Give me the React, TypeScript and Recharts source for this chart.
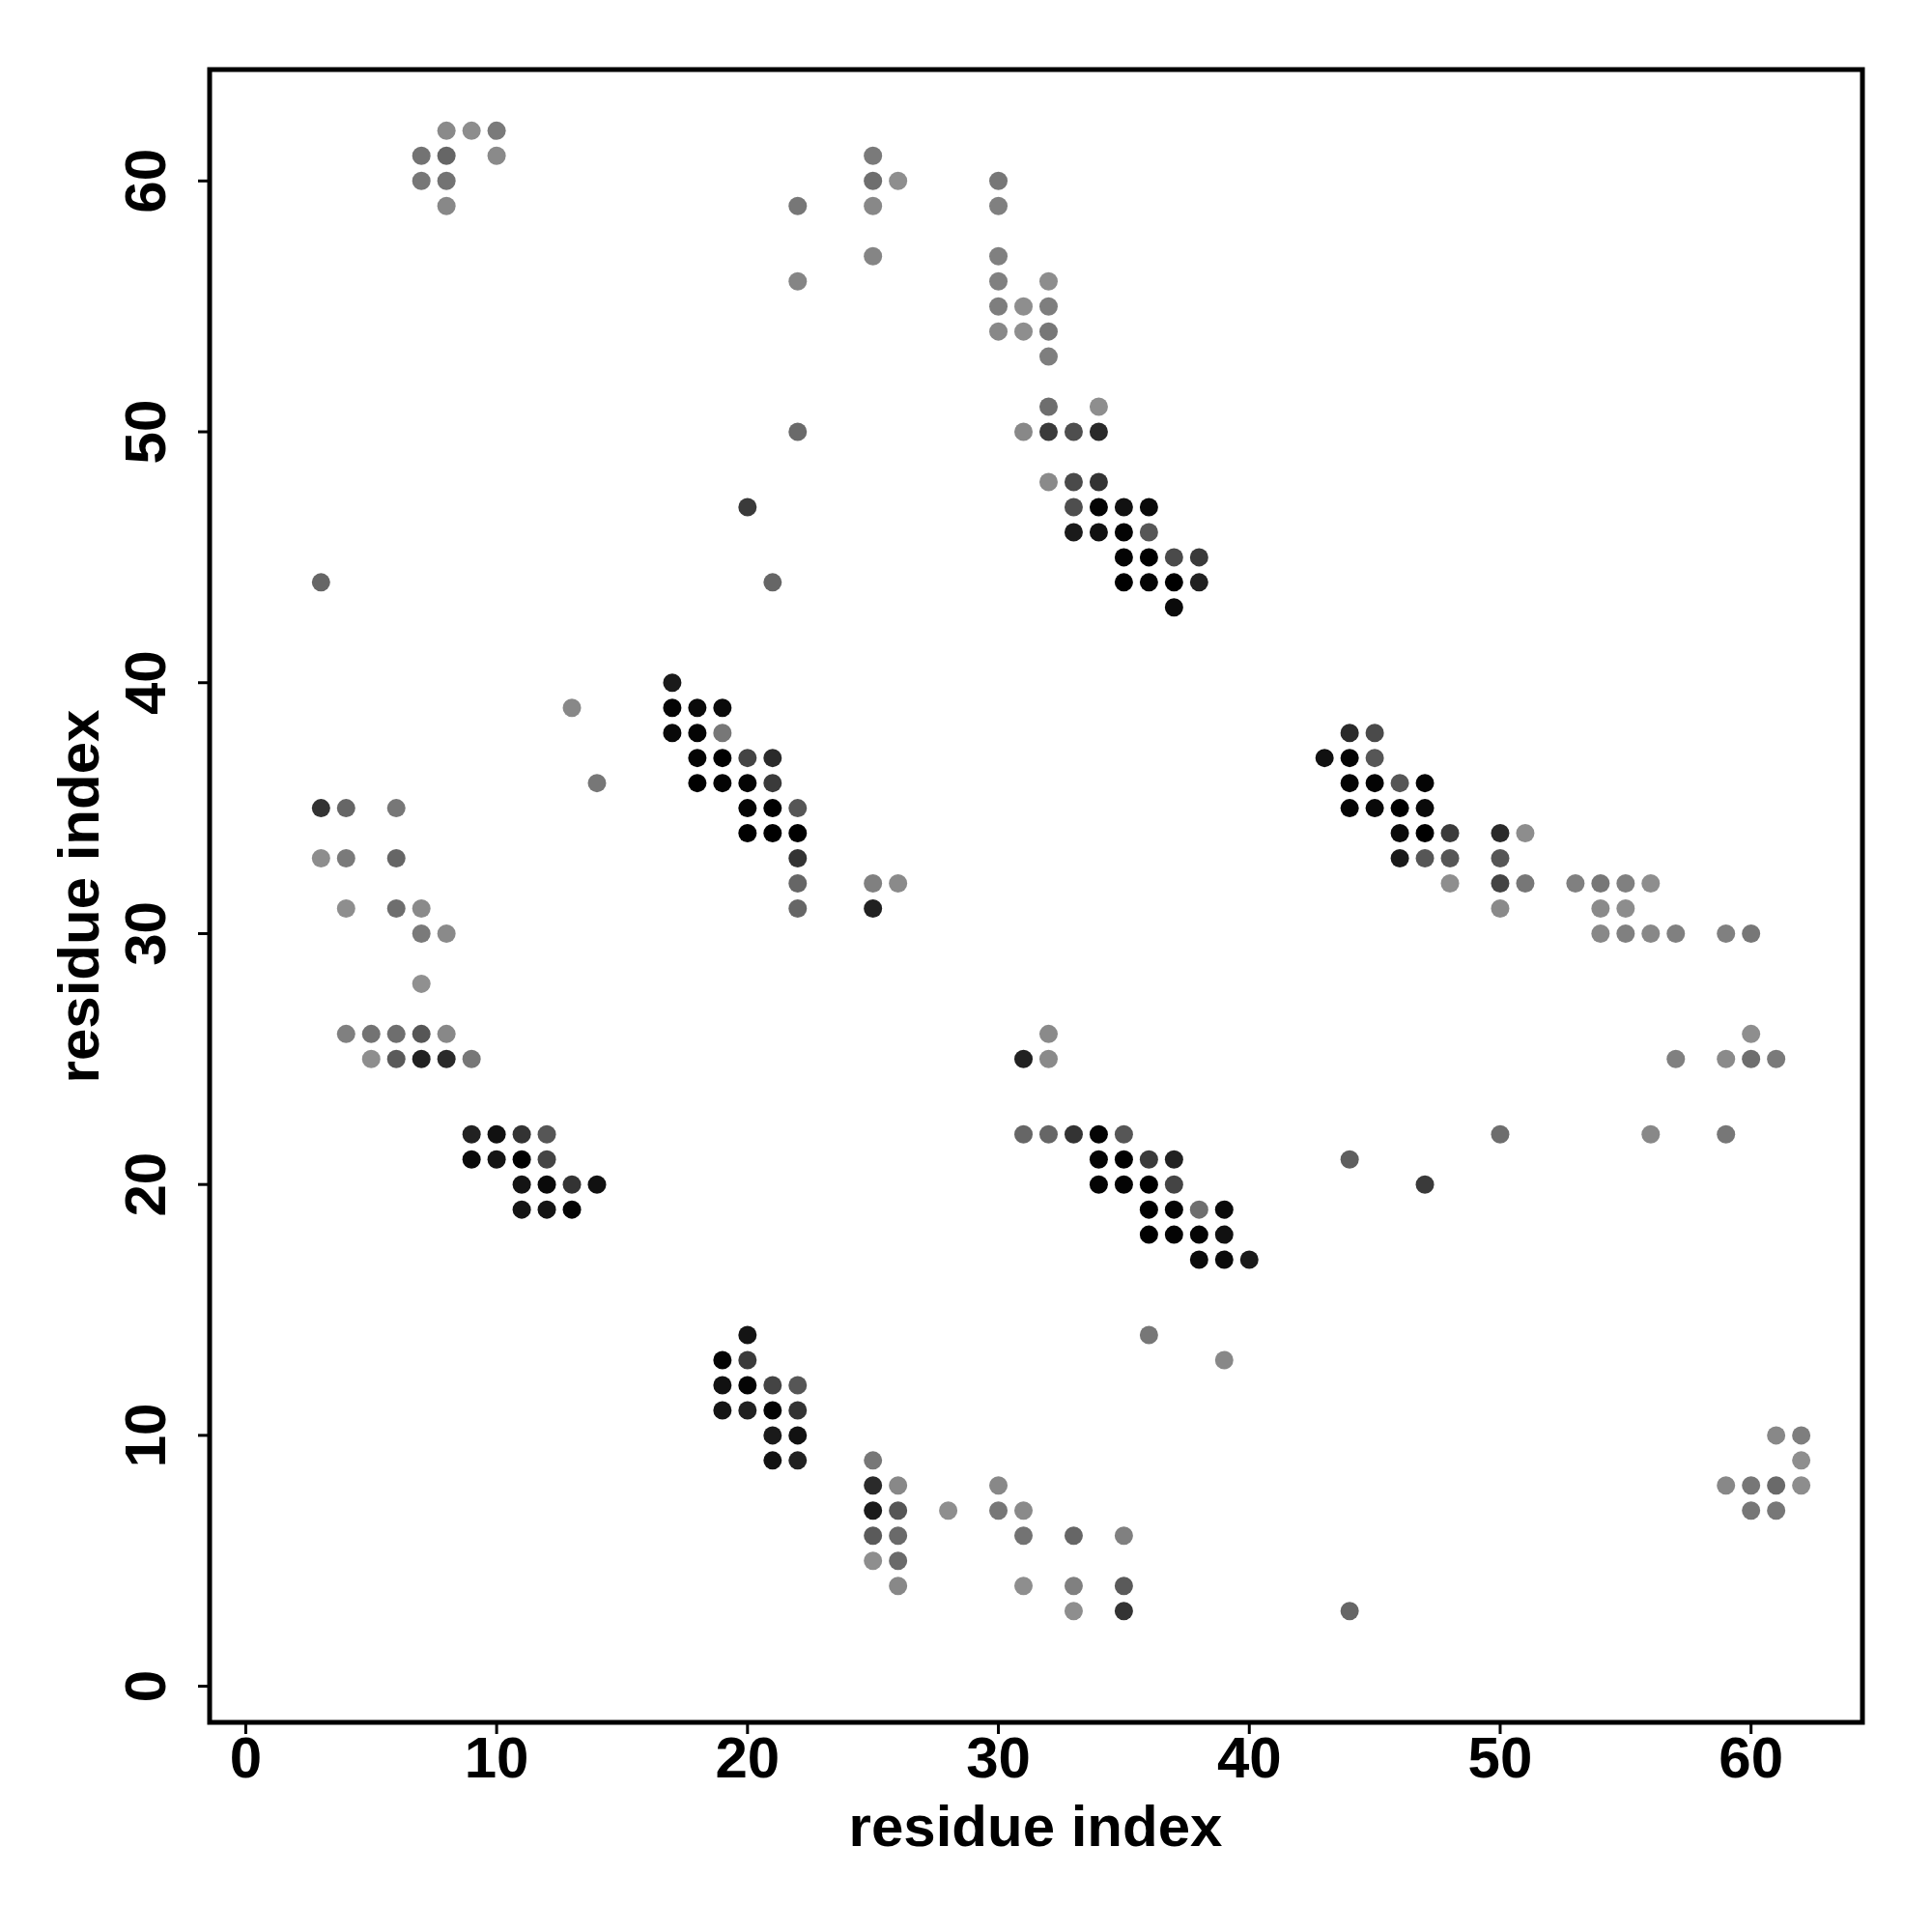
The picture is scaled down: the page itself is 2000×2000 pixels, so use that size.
import { ScatterChart, Scatter, XAxis, YAxis, ReferenceArea } from "recharts";

// contacts: [residue i, residue j, contact score 0..1]
const contacts: [number, number, number][] = [
  [8, 62, 0.05], [9, 62, 0.03], [10, 62, 0.16],
  [7, 61, 0.21], [8, 61, 0.3], [10, 61, 0.05], [25, 61, 0.16],
  [7, 60, 0.18], [8, 60, 0.21], [25, 60, 0.24], [26, 60, 0.02], [30, 60, 0.18],
  [8, 59, 0.06], [22, 59, 0.18], [25, 59, 0.06], [30, 59, 0.12],
  [25, 57, 0.08], [30, 57, 0.12],
  [22, 56, 0.08], [30, 56, 0.12], [32, 56, 0.03],
  [30, 55, 0.13], [31, 55, 0.02], [32, 55, 0.13],
  [30, 54, 0.06], [31, 54, 0.02], [32, 54, 0.18],
  [32, 53, 0.13],
  [32, 51, 0.24], [34, 51, 0.02],
  [22, 50, 0.27], [31, 50, 0.06], [32, 50, 0.6], [33, 50, 0.46], [34, 50, 0.71],
  [32, 48, 0.05], [33, 48, 0.49], [34, 48, 0.65],
  [20, 47, 0.6], [33, 47, 0.46], [34, 47, 0.97], [35, 47, 0.88], [36, 47, 0.94],
  [33, 46, 0.82], [34, 46, 0.88], [35, 46, 0.97], [36, 46, 0.41],
  [35, 45, 0.97], [36, 45, 1.0], [37, 45, 0.49], [38, 45, 0.6],
  [3, 44, 0.3], [21, 44, 0.3], [35, 44, 1.0], [36, 44, 0.97], [37, 44, 1.0], [38, 44, 0.77],
  [37, 43, 0.93],
  [17, 40, 0.82],
  [13, 39, 0.06], [17, 39, 0.97], [18, 39, 0.93], [19, 39, 0.93],
  [17, 38, 0.94], [18, 38, 0.97], [19, 38, 0.18], [44, 38, 0.71], [45, 38, 0.49],
  [18, 37, 0.97], [19, 37, 1.0], [20, 37, 0.53], [21, 37, 0.71], [43, 37, 0.88], [44, 37, 0.97], [45, 37, 0.41],
  [14, 36, 0.18], [18, 36, 1.0], [19, 36, 0.97], [20, 36, 0.97], [21, 36, 0.6],
  [44, 36, 0.97], [45, 36, 0.97], [46, 36, 0.41], [47, 36, 0.97],
  [3, 35, 0.65], [4, 35, 0.3], [6, 35, 0.18], [20, 35, 0.97], [21, 35, 1.0], [22, 35, 0.41],
  [44, 35, 0.97], [45, 35, 0.94], [46, 35, 1.0], [47, 35, 0.93],
  [20, 34, 1.0], [21, 34, 1.0], [22, 34, 1.0], [46, 34, 0.93], [47, 34, 1.0], [48, 34, 0.6], [50, 34, 0.71], [51, 34, 0.03],
  [3, 33, 0.03], [4, 33, 0.16], [6, 33, 0.3], [22, 33, 0.65], [46, 33, 0.82], [47, 33, 0.41], [48, 33, 0.41], [50, 33, 0.41],
  [22, 32, 0.3], [25, 32, 0.12], [26, 32, 0.05], [48, 32, 0.02], [50, 32, 0.53], [51, 32, 0.18],
  [53, 32, 0.12], [54, 32, 0.18], [55, 32, 0.12], [56, 32, 0.02],
  [4, 31, 0.02], [6, 31, 0.24], [7, 31, 0.05], [22, 31, 0.3], [25, 31, 0.77], [50, 31, 0.05], [54, 31, 0.05], [55, 31, 0.03],
  [7, 30, 0.16], [8, 30, 0.05], [54, 30, 0.06], [55, 30, 0.12], [56, 30, 0.06], [57, 30, 0.12], [59, 30, 0.12], [60, 30, 0.18],
  [7, 28, 0.01],
  [4, 26, 0.12], [5, 26, 0.21], [6, 26, 0.24], [7, 26, 0.41], [8, 26, 0.06], [32, 26, 0.05], [60, 26, 0.02],
  [5, 25, 0.02], [6, 25, 0.38], [7, 25, 0.77], [8, 25, 0.71], [9, 25, 0.18], [31, 25, 0.77], [32, 25, 0.05],
  [57, 25, 0.12], [59, 25, 0.05], [60, 25, 0.24], [61, 25, 0.16],
  [9, 22, 0.77], [10, 22, 0.88], [11, 22, 0.65], [12, 22, 0.41], [31, 22, 0.3], [32, 22, 0.3], [33, 22, 0.65],
  [34, 22, 0.97], [35, 22, 0.41], [50, 22, 0.24], [56, 22, 0.06], [59, 22, 0.18],
  [9, 21, 0.93], [10, 21, 0.86], [11, 21, 1.0], [12, 21, 0.53], [34, 21, 0.97], [35, 21, 1.0], [36, 21, 0.6], [37, 21, 0.77], [44, 21, 0.35],
  [11, 20, 0.86], [12, 20, 0.93], [13, 20, 0.65], [14, 20, 0.88], [34, 20, 0.97], [35, 20, 0.97], [36, 20, 1.0], [37, 20, 0.53], [47, 20, 0.6],
  [11, 19, 0.86], [12, 19, 0.86], [13, 19, 0.97], [36, 19, 1.0], [37, 19, 0.97], [38, 19, 0.24], [39, 19, 0.93],
  [36, 18, 1.0], [37, 18, 0.97], [38, 18, 0.97], [39, 18, 0.88],
  [38, 17, 0.93], [39, 17, 0.93], [40, 17, 0.82],
  [20, 14, 0.86], [36, 14, 0.18],
  [19, 13, 0.97], [20, 13, 0.6], [39, 13, 0.06],
  [19, 12, 0.88], [20, 12, 0.97], [21, 12, 0.53], [22, 12, 0.41],
  [19, 11, 0.86], [20, 11, 0.77], [21, 11, 0.97], [22, 11, 0.65],
  [21, 10, 0.82], [22, 10, 0.88], [61, 10, 0.06], [62, 10, 0.13],
  [21, 9, 0.88], [22, 9, 0.77], [25, 9, 0.18], [62, 9, 0.02],
  [25, 8, 0.71], [26, 8, 0.06], [30, 8, 0.06], [59, 8, 0.06], [60, 8, 0.18], [61, 8, 0.27], [62, 8, 0.03],
  [25, 7, 0.82], [26, 7, 0.41], [28, 7, 0.02], [30, 7, 0.18], [31, 7, 0.05], [60, 7, 0.18], [61, 7, 0.18],
  [25, 6, 0.38], [26, 6, 0.27], [31, 6, 0.21], [33, 6, 0.3], [35, 6, 0.12],
  [25, 5, 0.02], [26, 5, 0.27],
  [26, 4, 0.06], [31, 4, 0.02], [33, 4, 0.12], [35, 4, 0.38],
  [33, 3, 0.02], [35, 3, 0.65], [44, 3, 0.3],
];

const xTicks = [0, 10, 20, 30, 40, 50, 60];
const yTicks = [0, 10, 20, 30, 40, 50, 60];
const xTitle = "residue index";
const yTitle = "residue index";

const LO = -1.44;
const HI = 64.44;
const FONT = "'Liberation Sans', Arial, Helvetica, sans-serif";
const PLOT_LEFT = 209;
const PLOT_BOTTOM = 1775;

const data = contacts.map(([i, j, score]) => ({ i, j, score }));

function shade(score: number) {
  const g = Math.round(145 * (1 - score));
  return `rgb(${g},${g},${g})`;
}

const Dot = (props: any) => {
  const { cx, cy, payload } = props;
  if (cx == null || cy == null) return null;
  return <circle cx={cx} cy={cy} r={9.5} fill={shade(payload.score)} />;
};

const XTick = (props: any) => {
  const { x, payload } = props;
  return (
    <g>
      <line x1={x} x2={x} y1={PLOT_BOTTOM} y2={PLOT_BOTTOM + 12} stroke="#000" strokeWidth={3} />
      <text x={x} y={1832} textAnchor="middle" fontSize={60} fontWeight="bold" fontFamily={FONT} fill="#000">
        {payload.value}
      </text>
    </g>
  );
};

const YTick = (props: any) => {
  const { y, payload } = props;
  return (
    <g>
      <line x1={PLOT_LEFT - 12} x2={PLOT_LEFT} y1={y} y2={y} stroke="#000" strokeWidth={3} />
      <text
        x={163}
        y={y}
        transform={`rotate(-90, 163, ${y})`}
        textAnchor="middle"
        fontSize={60}
        fontWeight="bold"
        fontFamily={FONT}
        fill="#000"
      >
        {payload.value}
      </text>
    </g>
  );
};

export default function App() {
  return (
    <div style={{ position: "relative", width: 1992, height: 1992, background: "#fff" }}>
      <ScatterChart width={1992} height={1992} margin={{ top: 64, right: 72, bottom: 117, left: 109 }}>
        <XAxis
          type="number"
          dataKey="i"
          domain={[LO, HI]}
          allowDataOverflow
          ticks={xTicks}
          height={100}
          axisLine={false}
          tickLine={false}
          tick={<XTick />}
          interval={0}
        />
        <YAxis
          type="number"
          dataKey="j"
          domain={[LO, HI]}
          allowDataOverflow
          ticks={yTicks}
          width={100}
          axisLine={false}
          tickLine={false}
          tick={<YTick />}
          interval={0}
        />
        <Scatter data={data} shape={<Dot />} isAnimationActive={false} />
        <ReferenceArea
          x1={LO}
          x2={HI}
          y1={LO}
          y2={HI}
          fill="none"
          fillOpacity={0}
          stroke="#000"
          strokeWidth={5}
          strokeOpacity={1}
          ifOverflow="visible"
        />
      </ScatterChart>
      <svg
        width={1992}
        height={1992}
        style={{ position: "absolute", left: 0, top: 0, pointerEvents: "none" }}
      >
        <text x={1064} y={1903} textAnchor="middle" fontSize={60} fontWeight="bold" fontFamily={FONT} fill="#000">
          {xTitle}
        </text>
        <text
          x={94}
          y={920}
          transform="rotate(-90, 94, 920)"
          textAnchor="middle"
          fontSize={60}
          fontWeight="bold"
          fontFamily={FONT}
          fill="#000"
        >
          {yTitle}
        </text>
      </svg>
    </div>
  );
}
